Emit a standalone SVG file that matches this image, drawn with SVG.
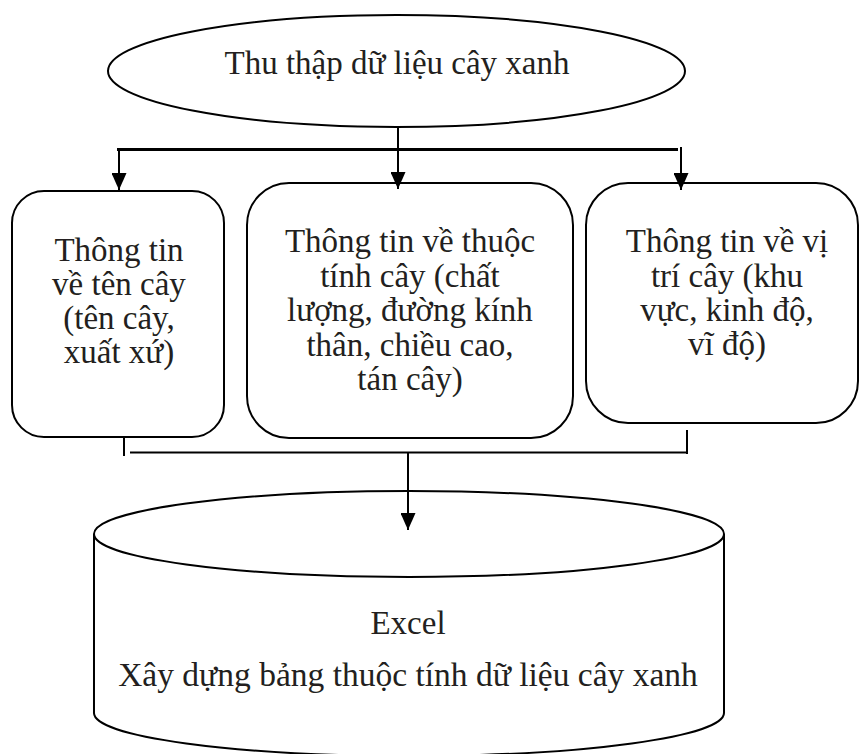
<svg xmlns="http://www.w3.org/2000/svg" width="860" height="754" viewBox="0 0 860 754">
<style>
  .shape { fill: #ffffff; stroke: #000000; stroke-width: 2; }
  .txt { font-family: "Liberation Serif", "Times New Roman", serif; font-size: 33px; fill: #231f20; text-anchor: middle; }
  .conn { fill: none; stroke: #000000; stroke-width: 2; }
  .thick { stroke-width: 3; }
</style>
<defs>
  <marker id="arrow" viewBox="0 0 17 15" refX="17" refY="7.5" markerWidth="17" markerHeight="15" markerUnits="userSpaceOnUse" orient="auto">
    <path d="M0,0 L17,7.5 L0,15 Z" fill="#000000"/>
  </marker>
</defs>
<rect width="860" height="754" fill="#ffffff"/>

<g id="node-collect">
  <ellipse class="shape" cx="396.5" cy="71" rx="288.5" ry="56"/>
  <text class="txt" x="397" y="74">Thu thập dữ liệu cây xanh</text>
</g>

<g id="node-name">
  <rect class="shape" x="12" y="191" width="212" height="246" rx="32" ry="32"/>
  <text class="txt" x="119" y="261">Thông tin</text>
  <text class="txt" x="119" y="295">về tên cây</text>
  <text class="txt" x="119" y="329">(tên cây,</text>
  <text class="txt" x="119" y="363">xuất xứ)</text>
</g>

<g id="node-attr">
  <rect class="shape" x="247" y="183" width="326" height="255" rx="42" ry="42"/>
  <text class="txt" x="410" y="252">Thông tin về thuộc</text>
  <text class="txt" x="410" y="287">tính cây (chất</text>
  <text class="txt" x="410" y="321">lượng, đường kính</text>
  <text class="txt" x="410" y="356">thân, chiều cao,</text>
  <text class="txt" x="410" y="390">tán cây)</text>
</g>

<g id="node-location">
  <rect class="shape" x="586" y="183" width="272" height="240" rx="42" ry="42"/>
  <text class="txt" x="727" y="252">Thông tin về vị</text>
  <text class="txt" x="727" y="287">trí cây (khu</text>
  <text class="txt" x="727" y="321">vực, kinh độ,</text>
  <text class="txt" x="727" y="355">vĩ độ)</text>
</g>

<g id="node-excel">
  <path class="shape" d="M94,534 A315,43 0 0,1 724,534 L724,713 A315,43 0 0,1 94,713 Z"/>
  <path class="conn" d="M94,534 A315,43 0 0,0 724,534"/>
  <text class="txt" x="408" y="634">Excel</text>
  <text class="txt" x="408" y="686" style="font-size:33.5px">Xây dựng bảng thuộc tính dữ liệu cây xanh</text>
</g>

<g id="connectors">
  <line class="conn thick" x1="117" y1="149.5" x2="678" y2="149.5"/>
  <line class="conn" x1="398" y1="127" x2="398" y2="189" marker-end="url(#arrow)"/>
  <line class="conn" x1="119" y1="149" x2="119" y2="190" marker-end="url(#arrow)"/>
  <line class="conn" x1="681" y1="147" x2="681" y2="190" marker-end="url(#arrow)"/>

  <line class="conn" x1="124" y1="437" x2="124" y2="456"/>
  <line class="conn" x1="130" y1="452.5" x2="687" y2="452.5"/>
  <line class="conn" x1="687" y1="430" x2="687" y2="454"/>
  <line class="conn" x1="408" y1="453" x2="408" y2="530" marker-end="url(#arrow)"/>
</g>
</svg>
